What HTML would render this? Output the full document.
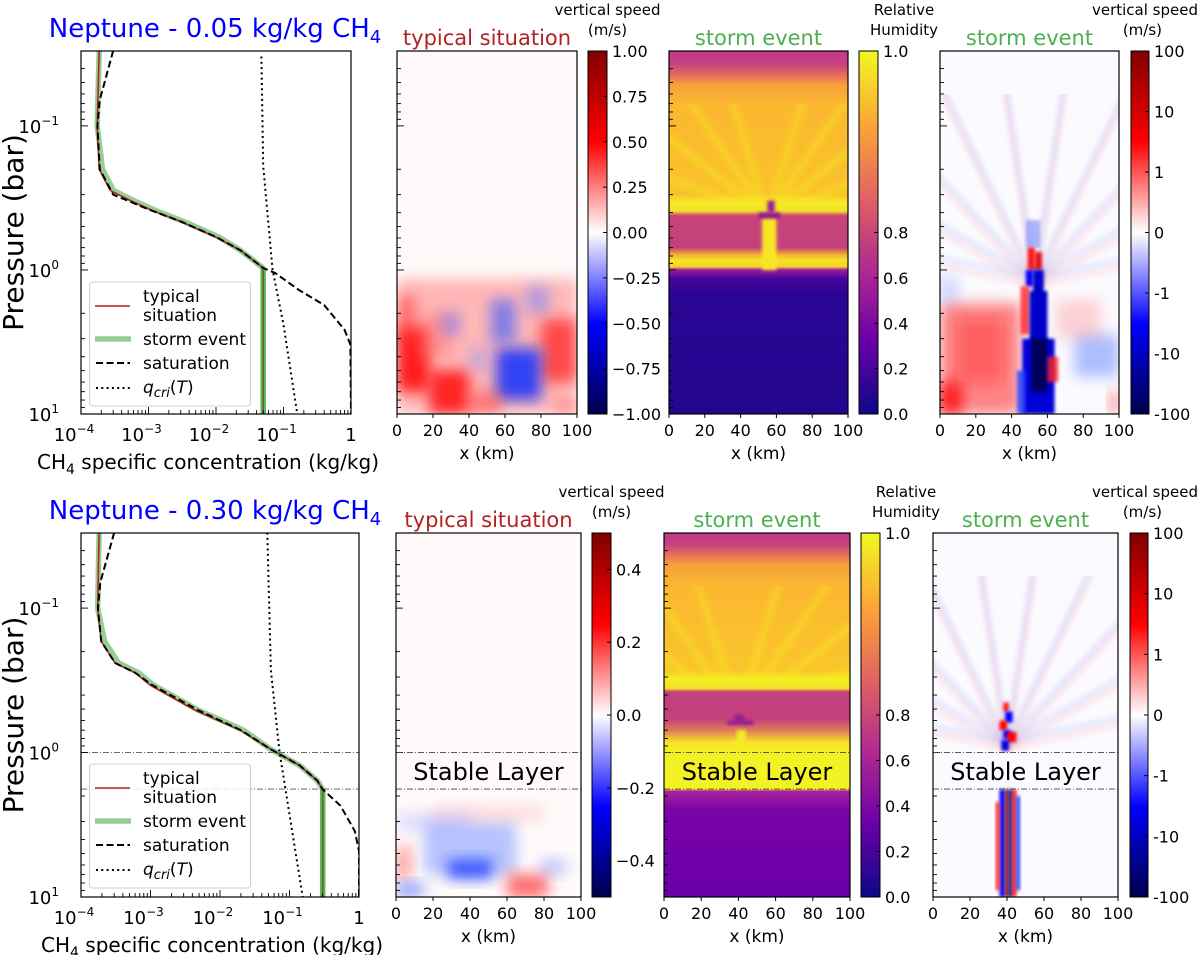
<!DOCTYPE html>
<html><head><meta charset="utf-8">
<style>
html,body{margin:0;padding:0;background:#fff;}
svg{display:block;font-family:"DejaVu Sans","Liberation Sans",sans-serif;}
</style></head>
<body>
<svg id="fig" width="1200" height="955" viewBox="0 0 1200 955" xmlns="http://www.w3.org/2000/svg">
<defs>
<linearGradient id="seis" x1="0" y1="1" x2="0" y2="0">
<stop offset="0" stop-color="#00004c"/><stop offset="0.25" stop-color="#0000ff"/><stop offset="0.5" stop-color="#ffffff"/><stop offset="0.75" stop-color="#ff0000"/><stop offset="1" stop-color="#800000"/>
</linearGradient>
<linearGradient id="plasma" x1="0" y1="1" x2="0" y2="0">
<stop offset="0" stop-color="#0d0887"/><stop offset="0.2" stop-color="#6a00a8"/><stop offset="0.4" stop-color="#b12a90"/><stop offset="0.6" stop-color="#e16462"/><stop offset="0.8" stop-color="#fca636"/><stop offset="1" stop-color="#f0f921"/>
</linearGradient>
<filter id="blur3" x="-50%" y="-50%" width="200%" height="200%"><feGaussianBlur stdDeviation="3"/></filter>
<filter id="blur6" x="-50%" y="-50%" width="200%" height="200%"><feGaussianBlur stdDeviation="7"/></filter>
<filter id="blur1" x="-50%" y="-50%" width="200%" height="200%"><feGaussianBlur stdDeviation="1.5"/></filter>
</defs>
</svg>
<script>
// ---------- data ----------
const profTopP      = [0.03,0.1,0.2,0.28,0.33,0.38,0.46,0.59,0.73,0.97,10];
const profTopQ      = [1.86e-4,1.74e-4,1.86e-4,2.7e-4,5.4e-4,1.05e-3,2.95e-3,9.8e-3,2.3e-2,5e-2,5e-2];
const satTopP       = [0.03,0.066,0.1,0.2,0.3,0.38,0.46,0.59,0.73,0.97,1.05,1.38,1.75,2.6,3.3,10];
const satTopQ       = [3e-4,1.9e-4,1.75e-4,1.9e-4,3e-4,1e-3,3e-3,1e-2,2.3e-2,5e-2,7.5e-2,0.17,0.4,0.8,0.98,1];
const qcriTopP      = [0.033,0.19,1,2.4,10];
const qcriTopQ      = [0.047,0.05,0.069,0.1,0.16];
const profBotP      = [0.03,0.1,0.17,0.24,0.28,0.34,0.51,0.7,0.94,1.23,1.56,1.8,10];
const profBotQ      = [1.82e-4,1.74e-4,1.95e-4,3.1e-4,6e-4,9.8e-4,4.4e-3,1.95e-2,5.2e-2,0.14,0.25,0.3,0.3];
const satBotP       = [0.03,0.066,0.1,0.17,0.24,0.28,0.34,0.51,0.7,0.94,1.23,1.56,1.8,2.33,3.5,4.8,10];
const satBotQ       = [3e-4,1.9e-4,1.75e-4,1.95e-4,3.1e-4,6e-4,1.05e-3,4.9e-3,2e-2,5.2e-2,0.14,0.25,0.3,0.54,0.87,1,1];
const qcriBotP      = [0.03,0.27,1,10];
const qcriBotQ      = [0.048,0.054,0.072,0.155];
const xTickExp      = [-4,-3,-2,-1,0];
const xTickLabels   = ["10","10","10","10","1"];
const xTickSup      = ["−4","−3","−2","−1",""];
const yTickExp      = [-1,0,1];
const yTickSup      = ["−1","0","1"];
const kmTicks       = [0,20,40,60,80,100];
const stableP       = [1,1.79];
const cbTopSpeed    = ["1.00","0.75","0.50","0.25","0.00","−0.25","−0.50","−0.75","−1.00"];
const cbBotSpeed    = ["0.4","0.2","0.0","−0.2","−0.4"];
const cbBotSpeedVal = [0.4,0.2,0,-0.2,-0.4];
const cbRH          = ["1.0","0.8","0.6","0.4","0.2","0.0"];
const cbRHVal       = [1,0.8,0.6,0.4,0.2,0];
const cbLog         = ["100","10","1","0","-1","-10","-100"];
// RH vertical profile stops: [p, color]
const rhTopStops = [[0.03,"#c0398a"],[0.037,"#c8407f"],[0.045,"#e8705a"],[0.052,"#f6a03a"],[0.07,"#fbb730"],[0.3,"#f9c22c"],[0.34,"#f6ea25"],[0.39,"#f3e028"],[0.42,"#c8457a"],[0.7,"#c4407c"],[0.78,"#f3b032"],[0.86,"#f7e426"],[0.95,"#f3d02c"],[1.0,"#9a1c9c"],[1.15,"#4a039e"],[1.5,"#2a0593"],[10,"#230690"]];
const rhBotStops = [[0.03,"#be388b"],[0.036,"#c8407f"],[0.043,"#e8705a"],[0.05,"#f6a03a"],[0.07,"#fbb730"],[0.27,"#f9c52c"],[0.31,"#f4ee24"],[0.36,"#f3e026"],[0.38,"#c4407c"],[0.58,"#c4407c"],[0.7,"#e0785a"],[0.85,"#f7e426"],[1,"#f2f224"],[1.79,"#f2f224"],[1.85,"#a8229c"],[2.5,"#7a02a8"],[10,"#6a00a8"]];
// patches: [km0, km1, p0, p1, color, opacity]
const patchTop2 = [[0,100,1.15,10,"#ffa0a0",0.75],[0,18,2.5,7,"#ff0000",0.85],[0,10,1.5,3,"#ff3030",0.6],[18,40,5,10,"#ff0000",0.8],[12,30,2,4,"#ff7070",0.5],[80,100,2.2,6,"#ff2020",0.7],[55,80,3.5,8,"#1030ff",0.85],[52,66,1.6,3.2,"#4060ff",0.65],[72,84,1.3,2,"#7080ff",0.55],[25,35,2,2.8,"#6070ff",0.55],[40,50,3.5,5,"#8090ff",0.45],[40,58,7,10,"#ff4040",0.55],[88,100,8,10,"#ff6060",0.5]];
const patchBot2 = [[15,65,3,7,"#6080ff",0.45],[28,52,5.5,7.5,"#0028ff",0.7],[60,82,7,10,"#ff2020",0.65],[0,8,4.5,7.5,"#ff4040",0.5],[0,15,8,10,"#2040ff",0.5],[78,92,5.5,7,"#6070ff",0.4],[20,80,2.3,3,"#ffa0a0",0.3],[0,40,2.6,3.5,"#9aa0ff",0.3]];
const patchTop4 = [[0,45,1.7,10,"#ff4040",0.65],[0,12,6,10,"#ff0000",0.8],[10,35,2.2,6,"#ff2020",0.35],[75,100,2.8,5.5,"#5070ff",0.45],[0,10,1.1,1.7,"#8090ff",0.35],[95,100,7,10,"#ff3030",0.6],[65,90,1.6,3,"#ff8080",0.35]];
const colTop4 = [[48,56,0.45,0.7,"#6070ff",0.5],[49,53,0.7,1.0,"#ff0000",0.9],[53,57,0.75,1.0,"#e00000",0.9],[48,52,1.0,1.3,"#0000ff",1],[52,58,1.0,1.5,"#0000d0",1],[45,50,1.3,2.8,"#ff2020",0.8],[50,60,1.4,4,"#0000c8",1],[46,64,3,10,"#0000d8",1],[51,60,3,7,"#00005a",1],[60,66,4,6,"#ff2020",0.8],[43,48,5,10,"#2040ff",0.8]];
const colBot4 = [[38,41,0.45,0.52,"#ff0000",0.9],[39,43,0.52,0.62,"#0000ff",1],[36,40,0.6,0.7,"#ff0000",1],[38,42,0.7,0.8,"#0000ff",1],[40,45,0.72,0.85,"#ff0000",1],[37,41,0.82,0.97,"#0000e0",1],[36,39,1.8,10,"#0000ff",1],[39,41,1.8,10,"#8b0000",1],[41,43,1.8,10,"#000080",1],[43,45,1.8,10,"#ff0000",1],[45,47,2,9,"#2040ff",1],[34,36,2.2,9,"#ff2020",1]];
const rhColTop = [[52,60,0.42,1.0,"#f8e625",1],[55,59,0.33,0.4,"#9b1e9a",1],[50,62,0.4,0.44,"#8a1499",1]];
const rhColBot = [[38,43,0.55,0.6,"#8a1499",1],[34,48,0.6,0.64,"#8a1499",1],[39,44,0.7,0.95,"#f4ea26",1]];

// ---------- helpers ----------
const NS="http://www.w3.org/2000/svg";
const svg=document.getElementById('fig');
const defs=svg.querySelector('defs');
function mk(tag,attrs,parent){const e=document.createElementNS(NS,tag);for(const k in attrs)e.setAttribute(k,attrs[k]);(parent||svg).appendChild(e);return e;}
function txt(s,attrs,parent){const e=mk('text',attrs,parent);e.textContent=s;return e;}
const L=Math.log10;
function pScale(y0,y1){return p=>y0+(L(p)+1.52)*(y1-y0)/2.52;}
function qScale(x0,x1){return q=>x0+(L(q)+4)*(x1-x0)/4;}
function kmScale(x0,x1){return k=>x0+k/100*(x1-x0);}

const rows=[{y0:51,y1:414,title:"Neptune - 0.05 kg/kg CH",prof:[profTopP,profTopQ],sat:[satTopP,satTopQ],qc:[qcriTopP,qcriTopQ],px1:351,
  p2:[397,577],c2:[588,607],p3:[669,848],c3:[859,878],p4:[940,1119],c4:[1131,1149],stable:false},
 {y0:533,y1:897,title:"Neptune - 0.30 kg/kg CH",prof:[profBotP,profBotQ],sat:[satBotP,satBotQ],qc:[qcriBotP,qcriBotQ],px1:359,
  p2:[396,581],c2:[592,611],p3:[664,850],c3:[861,880],p4:[933,1118],c4:[1130,1148],stable:true}];

function pathFrom(P,Q,xs,ys){return P.map((p,i)=>(i?'L':'M')+xs(Q[i]).toFixed(1)+','+ys(p).toFixed(1)).join('');}

rows.forEach((R,ri)=>{
  const y0=R.y0,y1=R.y1,ys=pScale(y0,y1);
  const x0=81,x1=R.px1,xs=qScale(x0,x1);
  const g=mk('g',{});
  
  
  const clipId='clipP'+ri;
  const cp=mk('clipPath',{id:clipId}); mk('rect',{x:x0,y:y0,width:x1-x0,height:y1-y0},cp);
  const t=txt(R.title,{x:x0+134,y:y0-14,'font-size':26,fill:'#0000ff','text-anchor':'middle'},g);
  
  
  const ts=mk('tspan',{'font-size':18,dy:6},t); ts.textContent='4';
  const lines=mk('g',{'clip-path':'url(#'+clipId+')'},g);
  if(R.stable){stableP.forEach(p=>{const l=mk('line',{x1:x0,x2:x1,y1:ys(p),y2:ys(p),stroke:'#555','stroke-width':0.9,'stroke-dasharray':'6,2,1,2'},lines);
    
    });}
  const gr=mk('path',{d:pathFrom(R.prof[0],R.prof[1].map((q,i)=>q*(i>1&&i<8?1.12:1)),xs,ys),fill:'none',stroke:'#2ca02c','stroke-opacity':0.5,'stroke-width':5.5,'stroke-linejoin':'round'},lines);
  
  
  const rd=mk('path',{d:pathFrom(R.prof[0],R.prof[1],xs,ys),fill:'none',stroke:'#b22222','stroke-width':1.6},lines);
  
  
  const gr2=mk('path',{d:pathFrom(R.prof[0].slice(-2),R.prof[1].slice(-2),xs,ys),fill:'none',stroke:'#2ca02c','stroke-opacity':0.5,'stroke-width':5.5},lines);
  
  
  const sd=mk('path',{d:pathFrom(R.sat[0],R.sat[1],xs,ys),fill:'none',stroke:'#000','stroke-width':2,'stroke-dasharray':'7,3.5'},lines);
  
  
  const qd=mk('path',{d:pathFrom(R.qc[0],R.qc[1],xs,ys),fill:'none',stroke:'#000','stroke-width':2,'stroke-dasharray':'2,3.3'},lines);
  
  
  for(let e=-4;e<=0;e++){for(let m=1;m<10;m++){const v=m*Math.pow(10,e);if(v>1)break;const X=xs(v);const len=m==1?7:4;
    mk('line',{x1:X,x2:X,y1:y1,y2:y1-len,stroke:'#000','stroke-width':0.9},g);}}
  [-2,-1,0].forEach(e=>{for(let m=1;m<10;m++){const v=m*Math.pow(10,e);if(v<0.0302||v>10)continue;const Y=ys(v);const len=m==1?7:4;
    mk('line',{x1:x0,x2:x0+len,y1:Y,y2:Y,stroke:'#000','stroke-width':0.9},g);}});
  mk('line',{x1:x0,x2:x0+7,y1:ys(10),y2:ys(10),stroke:'#000'},g);
  xTickExp.forEach((e,i)=>{const tl=txt(xTickLabels[i],{x:xs(Math.pow(10,e))-(xTickSup[i]?7:0),y:y1+27,'font-size':18,'text-anchor':'middle'},g);
    
    
    if(xTickSup[i]){const s=mk('tspan',{'font-size':12,dy:-8},tl);s.textContent=xTickSup[i];}});
  yTickExp.forEach((e,i)=>{const tl=txt('10',{x:x0-22,y:ys(Math.pow(10,e))+7,'font-size':18,'text-anchor':'end'},g);
    
    
    const s=mk('tspan',{'font-size':12,dy:-8},tl);s.textContent=yTickSup[i];});
  const xl=txt('CH',{x:(x0+x1)/2-8,y:y1+55,'font-size':20,'text-anchor':'middle'},g);
  
  
  let s1=mk('tspan',{'font-size':14,dy:5},xl);s1.textContent='4';
  let s2=mk('tspan',{dy:-5},xl);s2.textContent=' specific concentration (kg/kg)';
  const yl=txt('Pressure (bar)',{x:0,y:0,'font-size':28,'text-anchor':'middle',transform:'translate(23,'+((y0+y1)/2)+') rotate(-90)'},g);
  
  
  mk('rect',{x:x0,y:y0,width:x1-x0,height:y1-y0,fill:'none',stroke:'#000','stroke-width':1.2},g);
  const ly=y0+231;
  const lg=mk('g',{},g);
  
  
  mk('rect',{x:89.5,y:ly,width:161,height:124,rx:3,fill:'#fff','fill-opacity':0.85,stroke:'#d0d0d0'},lg);
  mk('line',{x1:95,x2:130,y1:ly+24,y2:ly+24,stroke:'#b22222','stroke-width':1.6},lg);
  txt('typical',{x:143,y:ly+20,'font-size':17},lg);txt('situation',{x:143,y:ly+39,'font-size':17},lg);
  mk('line',{x1:95,x2:131,y1:ly+57,y2:ly+57,stroke:'#2ca02c','stroke-opacity':0.5,'stroke-width':5.5},lg);
  txt('storm event',{x:143,y:ly+63,'font-size':17},lg);
  mk('line',{x1:96,x2:130,y1:ly+81,y2:ly+81,stroke:'#000','stroke-width':2,'stroke-dasharray':'7,3.5'},lg);
  txt('saturation',{x:143,y:ly+87,'font-size':17},lg);
  mk('line',{x1:96,x2:130,y1:ly+106,y2:ly+106,stroke:'#000','stroke-width':2,'stroke-dasharray':'2,3.3'},lg);
  const qt=txt('q',{x:143,y:ly+111,'font-size':17,'font-style':'italic'},lg);
  let q1=mk('tspan',{'font-size':13,dy:4},qt);q1.textContent='cri';
  let q2=mk('tspan',{dy:-4,'font-style':'normal'},qt);q2.textContent='(';
  let q3=mk('tspan',{},qt);q3.textContent='T';
  let q4=mk('tspan',{'font-style':'normal'},qt);q4.textContent=')';

  function heatPanel(P,name){
    const a=P[0],b=P[1],ks=kmScale(a,b);
    const hg=mk('g',{});
    
    
    const id='clip'+name;
    const c=mk('clipPath',{id:id});mk('rect',{x:a,y:y0,width:b-a,height:y1-y0},c);
    const body=mk('g',{'clip-path':'url(#'+id+')'},hg);
    return {hg,body,ks,a,b};
  }
  function cells(body,ks,C,f){C.forEach(d=>{const r=mk('rect',{x:ks(d[0]),y:ys(d[2]),width:ks(d[1])-ks(d[0]),height:ys(d[3])-ys(d[2]),fill:d[4],'fill-opacity':d[5],filter:f||'url(#blur1)'},body);
    
    });}
  function rays(body,ks,cKm,cP,col,op,n,w){for(let i=0;i<n;i++){const ang=-Math.PI/2+(i-(n-1)/2)*0.3;const X=ks(cKm),Y=ys(cP);
    const l=mk('line',{x1:X,y1:Y,x2:X+230*Math.cos(ang),y2:Y+230*Math.sin(ang),stroke:col,'stroke-width':w,'stroke-opacity':op,filter:'url(#blur3)'},body);
    
    }}
  function frame(H,titleS,tcol){
    const {hg,ks,a,b}=H;
    for(let e=-2;e<=0;e++)for(let m=1;m<10;m++){const v=m*Math.pow(10,e);if(v<0.0302||v>10)continue;const Y=ys(v);
      mk('line',{x1:a,x2:a+(m==1?7:4),y1:Y,y2:Y,stroke:'#000','stroke-width':0.9},hg);}
    kmTicks.forEach(k=>{mk('line',{x1:ks(k),x2:ks(k),y1:y1,y2:y1+4,stroke:'#000'},hg);
      const tl=txt(String(k),{x:ks(k),y:y1+22,'font-size':16,'text-anchor':'middle'},hg);
      
      });
    const xl=txt('x (km)',{x:(a+b)/2,y:y1+45,'font-size':17,'text-anchor':'middle'},hg);
    
    
    const tt=txt(titleS,{x:(a+b)/2,y:y0-6,'font-size':21,'text-anchor':'middle',fill:tcol},hg);
    
    
    if(R.stable){stableP.forEach(p=>{const l=mk('line',{x1:a,x2:b,y1:ys(p),y2:ys(p),stroke:'#444','stroke-width':0.9,'stroke-dasharray':'6,2,1,2'},hg);
        
        });
      const st=txt('Stable Layer',{x:(a+b)/2,y:(ys(stableP[0])+ys(stableP[1]))/2+9,'font-size':24,'text-anchor':'middle'},hg);
      
      }
    mk('rect',{x:a,y:y0,width:b-a,height:y1-y0,fill:'none',stroke:'#000','stroke-width':1.2},hg);
  }
  function colorbar(C,grad,labels,posFn,title1,title2,name,tx,anchor){
    const cg=mk('g',{});
    
    
    mk('rect',{x:C[0],y:y0,width:C[1]-C[0],height:y1-y0,fill:'url(#'+grad+')',stroke:'#000','stroke-width':1},cg);
    labels.forEach((s,i)=>{const Y=posFn(i);
      mk('line',{x1:C[1]-4,x2:C[1],y1:Y,y2:Y,stroke:'#000'},cg);
      const tl=txt(s,{x:C[1]+5,y:Y+6,'font-size':16},cg);
      
      });
    txt(title1,{x:tx,y:y0-36,'font-size':15,'text-anchor':anchor},cg);
    txt(title2,{x:tx-(anchor==='end'?36:0),y:y0-16,'font-size':15,'text-anchor':anchor},cg);
  }
  const even=n=>i=>y0+i*(y1-y0)/(n-1);

  let H=heatPanel(R.p2,'typical-speed-panel-'+ri);
  mk('rect',{x:H.a,y:y0,width:H.b-H.a,height:y1-y0,fill:'#fffafa'},H.body);
  cells(H.body,H.ks,R.stable?patchBot2:patchTop2,'url(#blur6)');
  frame(H,'typical situation','#b22222');
  if(!R.stable)colorbar(R.c2,'seis',cbTopSpeed,even(cbTopSpeed.length),'vertical speed','(m/s)','colorbar-speed-'+ri,(R.c2[0]+R.c2[1])/2+10,'middle');
  else colorbar(R.c2,'seis',cbBotSpeed,i=>y1-(cbBotSpeedVal[i]+0.5)*(y1-y0),'vertical speed','(m/s)','colorbar-speed-'+ri,(R.c2[0]+R.c2[1])/2+10,'middle');

  H=heatPanel(R.p3,'rh-panel-'+ri);
  const gid='rhg'+ri;
  const lgd=mk('linearGradient',{id:gid,gradientUnits:'userSpaceOnUse',x1:0,y1:y0,x2:0,y2:y1},defs);
  (R.stable?rhBotStops:rhTopStops).forEach(s=>{mk('stop',{offset:Math.max(0,Math.min(1,(ys(s[0])-y0)/(y1-y0))),'stop-color':s[1]},lgd);});
  const bg=mk('rect',{x:H.a,y:y0,width:H.b-H.a,height:y1-y0,fill:'url(#'+gid+')'},H.body);
  
  
  const rc=mk('clipPath',{id:'rayclip'+ri});mk('rect',{x:H.a,y:ys(0.07),width:H.b-H.a,height:ys(R.stable?0.3:0.33)-ys(0.07)},rc);
  const rg=mk('g',{'clip-path':'url(#rayclip'+ri+')'},H.body);
  rays(rg,H.ks,R.stable?40:55,R.stable?0.55:0.42,'#f7f020',0.35,9,8);
  cells(H.body,H.ks,R.stable?rhColBot:rhColTop);
  frame(H,'storm event','#4caf50');
  const rhPos=i=>{const v=cbRHVal[i];return v>=0.8? y1-(y1-y0)/2-(v-0.8)/0.2*(y1-y0)/2 : y1-v/0.8*(y1-y0)/2;};
  colorbar(R.c3,'plasma',cbRH,rhPos,'Relative','Humidity','colorbar-rh-'+ri,R.c3[1]+26,'middle');

  H=heatPanel(R.p4,'storm-speed-panel-'+ri);
  mk('rect',{x:H.a,y:y0,width:H.b-H.a,height:y1-y0,fill:'#fbfbff'},H.body);
  const rc4=mk('clipPath',{id:'rayclip4'+ri});mk('rect',{x:H.a,y:ys(0.06),width:H.b-H.a,height:ys(R.stable?1:1.5)-ys(0.06)},rc4);
  const rg4=mk('g',{'clip-path':'url(#rayclip4'+ri+')'},H.body);
  rays(rg4,H.ks,R.stable?40:53,R.stable?0.95:1.3,'#ff9090',0.22,10,5);
  rays(rg4,H.ks,R.stable?40:53,R.stable?0.85:1.15,'#8a96ff',0.22,10,5);
  if(!R.stable)cells(H.body,H.ks,patchTop4,'url(#blur6)');
  cells(H.body,H.ks,R.stable?colBot4:colTop4);
  frame(H,'storm event','#4caf50');
  colorbar(R.c4,'seis',cbLog,even(cbLog.length),'vertical speed','(m/s)','colorbar-log-speed-'+ri,1198,'end');
});
</script>
</body></html>
